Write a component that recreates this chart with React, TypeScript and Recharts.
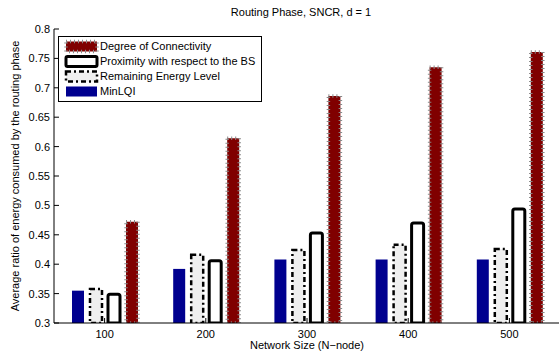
import { BarChart, Bar, XAxis, YAxis, Legend } from 'recharts';

const sizes = ['100', '200', '300', '400', '500'];
const minLQI = [0.355, 0.392, 0.408, 0.408, 0.408];
const remaining = [0.358, 0.416, 0.424, 0.433, 0.426];
const proximity = [0.349, 0.406, 0.453, 0.47, 0.494];
const degree = [0.472, 0.614, 0.686, 0.735, 0.761];
const yTicks = [0.3, 0.35, 0.4, 0.45, 0.5, 0.55, 0.6, 0.65, 0.7, 0.75, 0.8];

const data = sizes.map((n, i) => ({
  n,
  minLQI: minLQI[i],
  remaining: remaining[i],
  proximity: proximity[i],
  degree: degree[i],
}));

const font = '"Liberation Sans", Arial, Helvetica, sans-serif';

// legend order is reversed from the drawing order
const legendItems = [
  { name: 'Degree of Connectivity', fill: '#800000', stroke: '#888', strokeWidth: 3.5, dash: '1 3' },
  { name: 'Proximity with respect to the BS', fill: '#ffffff', stroke: '#000', strokeWidth: 3, dash: undefined },
  { name: 'Remaining Energy Level', fill: '#efefef', stroke: '#000', strokeWidth: 2.5, dash: '5 3 2 3' },
  { name: 'MinLQI', fill: '#00008f', stroke: 'none', strokeWidth: 0, dash: undefined },
];

function LegendBox() {
  return (
    <div
      style={{
        border: '1px solid #000',
        background: '#fff',
        padding: '2px 6px 2px 4px',
        fontFamily: font,
        fontSize: 11,
        lineHeight: '15px',
        color: '#000',
      }}
    >
      {legendItems.map((it) => (
        <div key={it.name} style={{ display: 'flex', alignItems: 'center', whiteSpace: 'nowrap' }}>
          <svg width={36} height={15} style={{ marginRight: 1 }}>
            <rect
              x={3}
              y={2.5}
              width={31}
              height={10}
              fill={it.fill}
              stroke={it.stroke}
              strokeWidth={it.strokeWidth}
              strokeDasharray={it.dash}
              rx={it.name.startsWith('Prox') ? 1.5 : 0}
            />
          </svg>
          <span>{it.name}</span>
        </div>
      ))}
    </div>
  );
}

export default function App() {
  return (
    <div style={{ position: 'absolute', left: 0, top: 0, width: 559, height: 352, overflow: 'hidden', background: '#fff' }}>
      <div
        style={{
          position: 'absolute',
          left: 0,
          top: 6,
          width: 602,
          textAlign: 'center',
          fontFamily: font,
          fontSize: 11,
          color: '#000',
        }}
      >
        Routing Phase, SNCR, d = 1
      </div>
      <BarChart
        width={565}
        height={352}
        data={data}
        margin={{ top: 29, right: 0, bottom: 0, left: 0 }}
        barSize={12}
        barGap={6}
        style={{ fontFamily: font }}
      >
        <XAxis
          dataKey="n"
          height={29}
          tickSize={-5}
          tickMargin={12}
          tick={{ fontSize: 11, fill: '#000' }}
          axisLine={{ stroke: '#000', strokeWidth: 1 }}
          tickLine={{ stroke: '#000' }}
          label={{
            content: () => (
              <text x={307} y={345} textAnchor="middle" dominantBaseline="central" fontSize={11} fill="#000" fontFamily={font}>
                Network Size (N{'\u2212'}node)
              </text>
            ),
          }}
        />
        <XAxis
          xAxisId="top"
          dataKey="n"
          orientation="top"
          height={0}
          tickSize={-5}
          tick={false}
          axisLine={{ stroke: '#000', strokeWidth: 1 }}
          tickLine={{ stroke: '#000' }}
        />
        <YAxis
          width={54}
          type="number"
          domain={[0.3, 0.8]}
          ticks={yTicks}
          interval={0}
          allowDataOverflow
          tickSize={-5}
          tickMargin={9}
          tickFormatter={(v: number) => String(Number(v.toFixed(2)))}
          tick={{ fontSize: 11, fill: '#000' }}
          axisLine={{ stroke: '#000', strokeWidth: 1 }}
          tickLine={{ stroke: '#000' }}
          label={{
            content: () => (
              <text
                x={15}
                y={176}
                transform="rotate(-90 15 176)"
                textAnchor="middle"
                dominantBaseline="central"
                fontSize={11}
                fill="#000"
                fontFamily={font}
              >
                Average ratio of energy consumed by the routing phase
              </text>
            ),
          }}
        />
        <YAxis
          yAxisId="right"
          orientation="right"
          width={5}
          type="number"
          domain={[0.3, 0.8]}
          ticks={yTicks}
          interval={0}
          allowDataOverflow
          tickSize={-5}
          tick={false}
          axisLine={{ stroke: '#000', strokeWidth: 1 }}
          tickLine={{ stroke: '#000' }}
        />
        <Legend
          layout="vertical"
          align="center"
          verticalAlign="middle"
          content={() => <LegendBox />}
          wrapperStyle={{ left: 58, top: 36, width: 'auto', height: 'auto' }}
        />
        <Bar dataKey="minLQI" name="MinLQI" fill="#00008f" isAnimationActive={false} />
        <Bar
          dataKey="remaining"
          name="Remaining Energy Level"
          fill="#efefef"
          stroke="#000"
          strokeWidth={2.5}
          strokeDasharray="5 3 2 3"
          isAnimationActive={false}
        />
        <Bar
          dataKey="proximity"
          name="Proximity with respect to the BS"
          fill="#ffffff"
          stroke="#000"
          strokeWidth={3}
          strokeLinejoin="round"
          radius={[2, 2, 0, 0]}
          isAnimationActive={false}
        />
        <Bar
          dataKey="degree"
          name="Degree of Connectivity"
          fill="#800000"
          stroke="#888"
          strokeWidth={3.5}
          strokeDasharray="1 3"
          isAnimationActive={false}
        />
      </BarChart>
    </div>
  );
}
